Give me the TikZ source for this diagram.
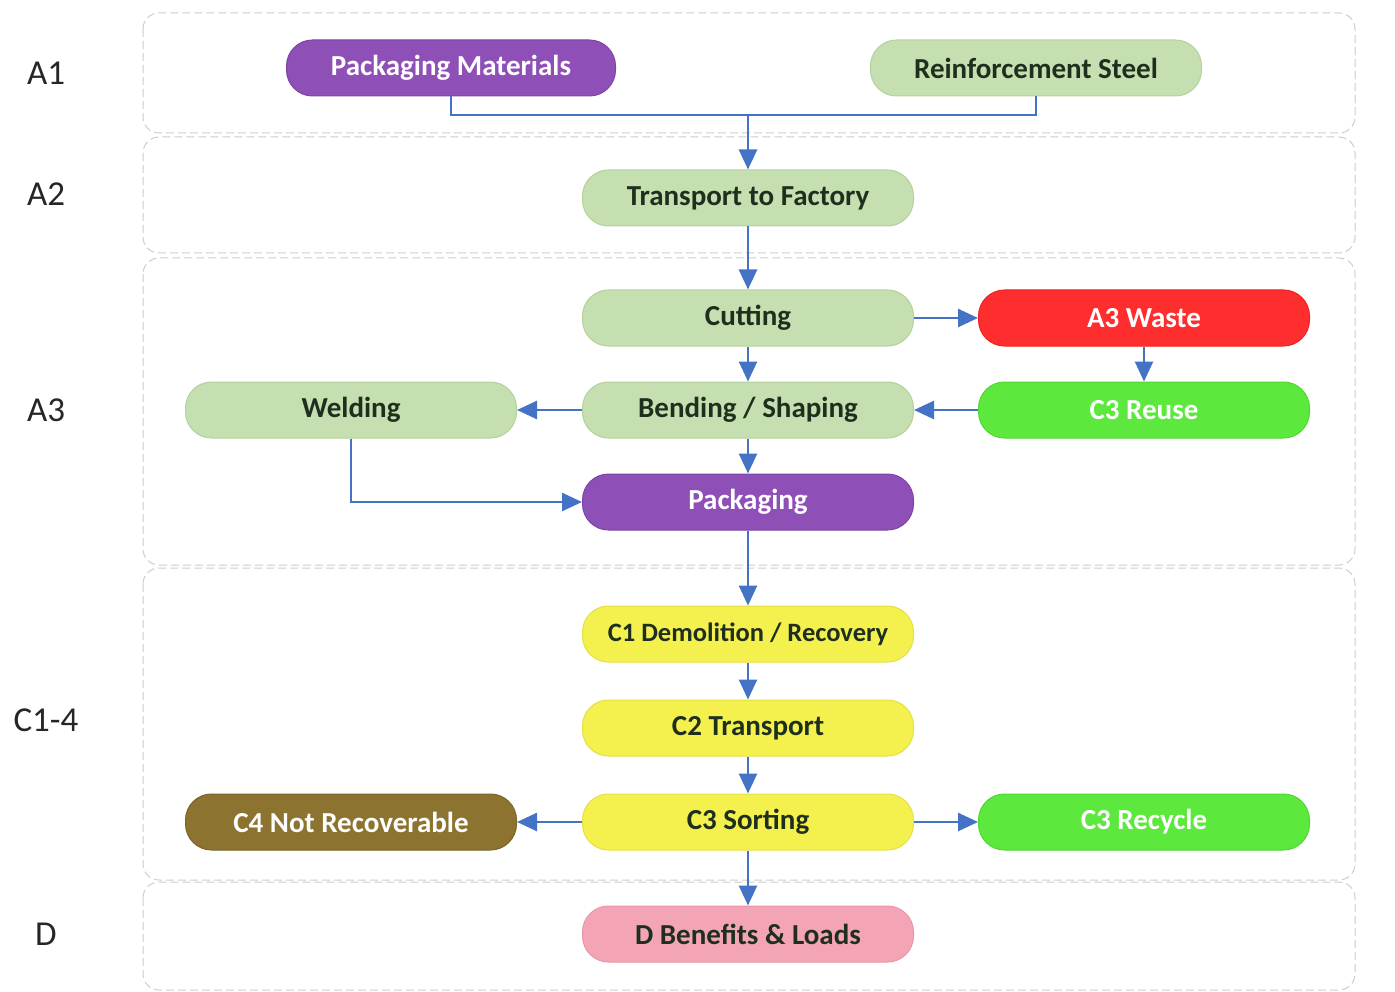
\documentclass[tikz,border=0pt]{standalone}
\usepackage{fontspec}
\setmainfont{Carlito}
\usetikzlibrary{arrows.meta}
\definecolor{lgreen}{HTML}{C5DFB0}
\definecolor{lgreenD}{HTML}{B3D29C}
\definecolor{purp}{HTML}{8E4FB6}
\definecolor{purpD}{HTML}{7E43A6}
\definecolor{wred}{HTML}{FF2E2E}
\definecolor{wredD}{HTML}{EE2222}
\definecolor{bgreen}{HTML}{5CE83C}
\definecolor{bgreenD}{HTML}{4FD830}
\definecolor{yel}{HTML}{F4F14E}
\definecolor{yelD}{HTML}{E3DF45}
\definecolor{brn}{HTML}{8C7330}
\definecolor{brnD}{HTML}{7A6428}
\definecolor{pnk}{HTML}{F3A5B6}
\definecolor{pnkD}{HTML}{E695A6}
\definecolor{arr}{HTML}{4472C4}
\definecolor{dtext}{HTML}{1E2F1E}
\begin{document}
\begin{tikzpicture}[x=1pt,y=-1pt,
  pill/.style={rectangle, rounded corners=26pt, minimum width=331pt, minimum height=56pt,
    line width=1pt, font=\fontsize{29}{32}\selectfont\bfseries, inner sep=0pt},
  gpill/.style={pill, fill=lgreen, draw=lgreenD, text=dtext},
  ppill/.style={pill, fill=purp, draw=purpD, text=white},
  rpill/.style={pill, fill=wred, draw=wredD, text=white},
  bpill/.style={pill, fill=bgreen, draw=bgreenD, text=white},
  ypill/.style={pill, fill=yel, draw=yelD, text=dtext},
  npill/.style={pill, fill=brn, draw=brnD, text=white},
  kpill/.style={pill, fill=pnk, draw=pnkD, text=dtext},
  section/.style={draw=black!20, line width=1pt, dash pattern=on 8pt off 4pt, rounded corners=16pt},
  lbl/.style={font=\fontsize{35}{38}\selectfont, text=black!85},
  flow/.style={draw=arr, line width=2.6pt, -{Triangle[length=20pt,width=18pt]}},
  link/.style={draw=arr, line width=2.4pt}
]
\useasboundingbox (0,0) rectangle (1395,992);

% sections
\draw[section] (143,13) rectangle (1355,133);
\draw[section] (143,137) rectangle (1355,253);
\draw[section] (143,258) rectangle (1355,565);
\draw[section] (143,568) rectangle (1355,880);
\draw[section] (143,882) rectangle (1355,990);

% stage labels
\node[lbl] (lA1) at (46,73) {A1};
\node[lbl] (lA2) at (46,194) {A2};
\node[lbl] (lA3) at (46,410) {A3};
\node[lbl] (lC) at (46,720) {C1-4};
\node[lbl] (lD) at (46,934) {D};

% nodes
\node[ppill, minimum width=329pt] (pm) at (451,68) {Packaging Materials};
\node[gpill] (rs) at (1036,68) {Reinforcement Steel};
\node[gpill] (tf) at (748,198) {Transport to Factory};
\node[gpill] (cut) at (748,318) {Cutting};
\node[rpill] (waste) at (1144,318) {A3 Waste};
\node[gpill] (bend) at (748,410) {Bending / Shaping};
\node[gpill] (weld) at (351,410) {Welding};
\node[bpill] (reuse) at (1144,410) {C3 Reuse};
\node[ppill] (pack) at (748,502) {Packaging};
\node[ypill, font=\fontsize{26.5}{30}\selectfont\bfseries] (c1) at (748,634) {C1 Demolition / Recovery};
\node[ypill] (c2) at (748,728) {C2 Transport};
\node[ypill] (c3) at (748,822) {C3 Sorting};
\node[npill] (c4) at (351,822) {C4 Not Recoverable};
\node[bpill] (rec) at (1144,822) {C3 Recycle};
\node[kpill] (d) at (748,934) {D Benefits \& Loads};

% connectors
\coordinate (j) at (748,115);
\draw[link] (pm.south) |- (j);
\draw[link] (rs.south) |- (j);
\draw[flow] (j) -- (tf.north);
\draw[flow] (tf) -- (cut);
\draw[flow] (cut) -- (waste);
\draw[flow] (waste) -- (reuse);
\draw[flow] (reuse) -- (bend);
\draw[flow] (cut) -- (bend);
\draw[flow] (bend) -- (weld);
\draw[flow] (bend) -- (pack);
\draw[flow] (weld.south) |- (pack.west);
\draw[flow] (pack) -- (c1);
\draw[flow] (c1) -- (c2);
\draw[flow] (c2) -- (c3);
\draw[flow] (c3) -- (c4);
\draw[flow] (c3) -- (rec);
\draw[flow] (c3) -- (d);
\end{tikzpicture}
\end{document}
